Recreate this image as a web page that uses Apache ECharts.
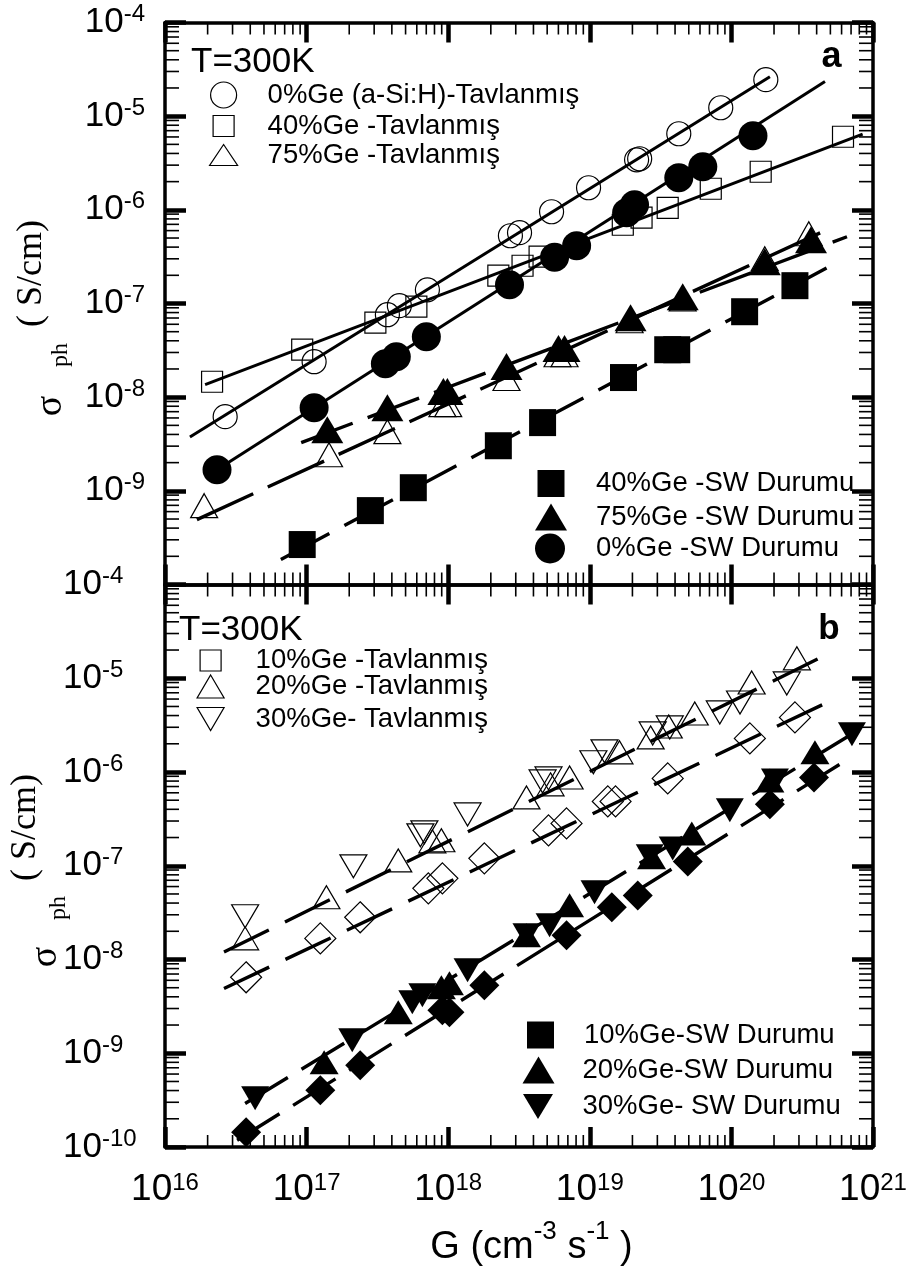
<!DOCTYPE html>
<html lang="tr">
<head>
<meta charset="utf-8">
<title>Fotoiletkenlik – G</title>
<script src="https://cdn.jsdelivr.net/npm/echarts@6/dist/echarts.min.js"></script>
<style>
  html, body { margin: 0; padding: 0; background: #fff; }
  #chart { width: 910px; height: 1271px; }
</style>
</head>
<body>
<div id="chart"></div>
<script>
// Photoconductivity sigma_ph (S/cm) versus generation rate G (cm^-3 s^-1), T = 300 K

// ---------- Panel (a) ----------
const gA_Ge0_ann  = [2.66e16, 1.13e17, 3.72e17, 4.52e17, 7.13e17, 2.75e18, 3.19e18, 5.37e18, 9.8e18, 2.14e19, 2.25e19, 4.25e19, 8.41e19, 1.75e20];
const sA_Ge0_ann  = [6.19e-9, 2.39e-8, 7.59e-8, 9.48e-8, 1.40e-7, 5.29e-7, 5.70e-7, 9.54e-7, 1.72e-6, 3.42e-6, 3.51e-6, 6.49e-6, 1.23e-5, 2.45e-5];

const gA_Ge40_ann = [2.15e16, 9.31e16, 3.06e17, 5.96e17, 2.26e18, 3.35e18, 4.42e18, 1.71e19, 2.32e19, 3.55e19, 7.15e19, 1.61e20, 6.14e20];
const sA_Ge40_ann = [1.46e-8, 3.21e-8, 6.24e-8, 9.24e-8, 1.98e-7, 2.53e-7, 3.16e-7, 6.93e-7, 8.24e-7, 1.05e-6, 1.68e-6, 2.55e-6, 6.03e-6];

const gA_Ge75_ann = [1.89e16, 1.44e17, 3.72e17, 9.10e17, 1.00e18, 2.58e18, 5.92e18, 6.63e18, 1.91e19, 4.53e19, 1.72e20, 3.52e20];
const sA_Ge75_ann = [6.95e-10, 2.43e-9, 4.28e-9, 8.32e-9, 8.32e-9, 1.58e-8, 2.84e-8, 2.84e-8, 6.55e-8, 1.12e-7, 3.01e-7, 5.56e-7];

const gA_Ge40_sw  = [9.31e16, 2.82e17, 5.67e17, 2.26e18, 4.64e18, 1.73e19, 3.55e19, 4.11e19, 1.24e20, 2.81e20];
const sA_Ge40_sw  = [2.67e-10, 6.15e-10, 1.08e-9, 3.03e-9, 5.35e-9, 1.62e-8, 3.21e-8, 3.21e-8, 8.17e-8, 1.55e-7];

const gA_Ge75_sw  = [1.40e17, 3.72e17, 9.25e17, 9.87e17, 2.58e18, 6.01e18, 6.63e18, 1.94e19, 4.53e19, 1.72e20, 3.65e20];
const sA_Ge75_sw  = [4.50e-9, 7.73e-9, 1.15e-8, 1.15e-8, 2.12e-8, 3.30e-8, 3.30e-8, 7.05e-8, 1.18e-7, 2.79e-7, 4.80e-7];

const gA_Ge0_sw   = [2.33e16, 1.13e17, 3.60e17, 4.30e17, 7.01e17, 2.71e18, 5.64e18, 8.07e18, 1.82e19, 2.07e19, 4.25e19, 6.28e19, 1.42e20];
const sA_Ge0_sw   = [1.68e-9, 7.73e-9, 2.28e-8, 2.70e-8, 4.42e-8, 1.59e-7, 3.12e-7, 4.14e-7, 9.31e-7, 1.13e-6, 2.20e-6, 2.88e-6, 6.18e-6];

// power-law fit lines of panel (a): end points
const fitA_Ge0_ann_g  = [1.50e16, 1.87e20], fitA_Ge0_ann_s  = [3.76e-9, 2.63e-5];
const fitA_Ge40_ann_g = [1.92e16, 8.45e20], fitA_Ge40_ann_s = [1.36e-8, 6.44e-6];
const fitA_Ge75_ann_g = [1.68e16, 4.73e20], fitA_Ge75_ann_s = [4.93e-10, 6.13e-7];
const fitA_Ge75_sw_g  = [9.16e16, 6.55e20], fitA_Ge75_sw_s  = [3.27e-9, 5.16e-7];
const fitA_Ge40_sw_g  = [6.58e16, 4.70e20], fitA_Ge40_sw_s  = [1.85e-10, 2.39e-7];
const fitA_Ge0_sw_g   = [2.33e16, 4.58e20], fitA_Ge0_sw_s   = [1.68e-9, 2.35e-5];

// ---------- Panel (b) ----------
const gB_Ge10_ann = [3.74e16, 1.25e17, 2.39e17, 7.24e17, 9.10e17, 1.80e18, 5.11e18, 6.85e18, 1.34e19, 1.52e19, 3.55e19, 1.35e20, 2.81e20];
const sB_Ge10_ann = [6.46e-9, 1.68e-8, 2.82e-8, 5.74e-8, 7.34e-8, 1.20e-7, 2.38e-7, 2.83e-7, 4.86e-7, 4.86e-7, 8.55e-7, 2.28e-6, 3.82e-6];

const gB_Ge20_ann = [3.68e16, 1.38e17, 4.44e17, 7.73e17, 8.95e17, 3.57e18, 5.28e18, 7.20e18, 1.62e19, 2.69e19, 3.61e19, 5.51e19, 1.39e20, 2.90e20];
const sB_Ge20_ann = [1.68e-8, 4.61e-8, 1.14e-7, 1.82e-7, 1.87e-7, 5.36e-7, 7.38e-7, 8.75e-7, 1.62e-6, 2.34e-6, 3.06e-6, 4.21e-6, 9.02e-6, 1.63e-5];

const gB_Ge30_ann = [3.68e16, 2.14e17, 6.36e17, 6.79e17, 1.37e18, 4.64e18, 5.11e18, 1.06e19, 1.27e19, 2.78e19, 3.67e19, 8.28e19, 1.15e20, 2.46e20];
const sB_Ge30_ann = [2.89e-8, 9.86e-8, 2.11e-7, 2.27e-7, 3.53e-7, 7.94e-7, 8.55e-7, 1.27e-6, 1.66e-6, 2.58e-6, 2.99e-6, 4.32e-6, 5.52e-6, 8.81e-6];

const gB_Ge10_sw  = [3.74e16, 1.25e17, 2.39e17, 9.10e17, 1.02e18, 1.80e18, 6.85e18, 1.43e19, 2.18e19, 4.92e19, 1.87e20, 3.83e20];
const sB_Ge10_sw  = [1.44e-10, 4.03e-10, 7.45e-10, 2.87e-9, 2.74e-9, 5.31e-9, 1.81e-8, 3.60e-8, 4.83e-8, 1.11e-7, 4.52e-7, 8.75e-7];

const gB_Ge20_sw  = [1.33e17, 4.44e17, 8.95e17, 1.02e18, 3.57e18, 7.20e18, 2.73e19, 5.25e19, 1.87e20, 3.89e20];
const sB_Ge20_sw  = [8.02e-10, 2.74e-9, 5.06e-9, 5.57e-9, 1.81e-8, 3.78e-8, 1.23e-7, 2.21e-7, 8.13e-7, 1.62e-6];

const gB_Ge30_sw  = [4.33e16, 2.10e17, 5.58e17, 6.57e17, 1.37e18, 3.57e18, 5.20e18, 1.08e19, 2.65e19, 3.85e19, 9.75e19, 2.03e20, 7.10e20];
const sB_Ge30_sw  = [3.31e-10, 1.38e-9, 3.50e-9, 4.15e-9, 7.67e-9, 1.81e-8, 2.32e-8, 5.20e-8, 1.26e-7, 1.53e-7, 3.90e-7, 8.13e-7, 2.52e-6];

// fit lines of panel (b)
const fitB_ann_tri_g = [2.61e16, 5.10e20], fitB_ann_tri_s = [1.20e-8, 1.90e-5];
const fitB_ann_dia_g = [2.61e16, 5.10e20], fitB_ann_dia_s = [4.90e-9, 5.80e-6];
const fitB_sw_tri_g  = [3.68e16, 8.54e20], fitB_sw_tri_s  = [2.91e-10, 3.01e-6];
const fitB_sw_dia_g  = [3.23e16, 6.34e20], fitB_sw_dia_s  = [1.18e-10, 1.31e-6];

// axis ranges
const gRange = [1e16, 1e21];
const sigmaRange = [1e-10, 1e-4];
const xDecades = [16, 17, 18, 19, 20];
const yDecades = [-10, -9, -8, -7, -6, -5];
const minorSteps = [2, 3, 4, 5, 6, 7, 8, 9];

const FONT = '"Liberation Sans", Arial, Helvetica, sans-serif';
const SERIF = '"Liberation Serif", "Times New Roman", serif';
const DOWN_TRIANGLE = 'path://M0,0L20,0L10,17Z';

const grids = [
  { left: 165, top: 22.5, width: 708, height: 562 },
  { left: 165, top: 584.5, width: 708, height: 562.5 }
];

// minor tick values (2..9 of each decade)
const yMinorValues = [];
yDecades.forEach(function (d) { minorSteps.forEach(function (k) { yMinorValues.push(k * Math.pow(10, d)); }); });
const xMinorValues = [];
xDecades.forEach(function (d) { minorSteps.forEach(function (k) { xMinorValues.push(k * Math.pow(10, d)); }); });

function exponent(v) { return Math.round(Math.log10(v)); }

function xAxis(gridIndex, position, withLabels) {
  return {
    type: 'log', logBase: 10, min: gRange[0], max: gRange[1],
    gridIndex: gridIndex, position: position,
    axisLine: { show: true, onZero: false, lineStyle: { color: '#000', width: 3.5 } },
    axisTick: { show: true, inside: true, length: 20, lineStyle: { color: '#000', width: 4.5 } },
    splitLine: { show: false },
    axisLabel: withLabels ? {
      show: true, margin: 22, showMinLabel: true, showMaxLabel: true,
      formatter: function (v) { return '{b|10}{s|' + exponent(v) + '}'; },
      rich: {
        b: { fontFamily: FONT, fontSize: 37, lineHeight: 42, color: '#000' },
        s: { fontFamily: FONT, fontSize: 24, lineHeight: 29, height: 29, verticalAlign: 'top', color: '#000' }
      }
    } : { show: false }
  };
}

function yAxis(gridIndex, position, labelMode) {
  const ax = {
    type: 'log', logBase: 10, min: sigmaRange[0], max: sigmaRange[1],
    gridIndex: gridIndex, position: position,
    axisLine: { show: true, onZero: false, lineStyle: { color: '#000', width: 3.5 } },
    axisTick: { show: true, inside: true, length: 21, lineStyle: { color: '#000', width: 4.5 } },
    splitLine: { show: false },
    axisLabel: { show: false }
  };
  if (labelMode) {
    ax.axisLabel = {
      show: true, showMinLabel: true, showMaxLabel: true,
      align: labelMode.align, margin: labelMode.margin,
      formatter: function (v) {
        const e = exponent(v);
        if (labelMode.skip && labelMode.skip.indexOf(e) >= 0) return '';
        return '{b|10}{s|' + e + '}';
      },
      rich: {
        b: { fontFamily: FONT, fontSize: 35, lineHeight: 40, color: '#000' },
        s: { fontFamily: FONT, fontSize: 24, lineHeight: 24, height: 24, verticalAlign: 'top', color: '#000' }
      }
    };
  }
  return ax;
}

function pairs(g, s) { return g.map(function (x, i) { return [x, s[i]]; }); }

function scatter(name, gridIndex, g, s, symbol, size, hollow, rotate) {
  return {
    type: 'scatter', name: name, silent: true,
    xAxisIndex: gridIndex * 2, yAxisIndex: gridIndex * 2,
    data: pairs(g, s),
    symbol: symbol, symbolSize: size, symbolRotate: rotate || 0,
    itemStyle: hollow
      ? { color: 'rgba(0,0,0,0)', borderColor: '#000', borderWidth: 1.2, opacity: 1 }
      : { color: '#000', borderWidth: 0, opacity: 1 },
    z: hollow ? 2 : 3
  };
}

function fitLine(gridIndex, g, s, dash) {
  return {
    type: 'line', silent: true,
    xAxisIndex: gridIndex * 2, yAxisIndex: gridIndex * 2,
    data: pairs(g, s), symbol: 'none',
    lineStyle: { color: '#000', width: dash ? 3.4 : 3, type: dash || 'solid', opacity: 1 },
    z: 4
  };
}

// one legend block per entry: [name, icon centre x, row centre y, icon w, icon h, text x, hollow, icon]
const legendRows = [
  ['0%Ge (a-Si:H)-Tavlanmış', 223, 95, 26, 26, 267, true, 'circle'],
  ['40%Ge -Tavlanmış', 223, 126, 21, 21, 267, true, 'rect'],
  ['75%Ge -Tavlanmış', 223, 155, 28, 21, 267, true, 'triangle'],
  ['40%Ge -SW Durumu', 551, 483.5, 27, 27, 596, false, 'rect'],
  ['75%Ge -SW Durumu', 551, 517, 32, 27, 596, false, 'triangle'],
  ['0%Ge -SW Durumu', 550, 548.5, 30, 30, 596, false, 'circle'],
  ['10%Ge -Tavlanmış', 210, 660.5, 21, 21, 255, true, 'rect'],
  ['20%Ge -Tavlanmış', 210, 686.5, 27, 23, 255, true, 'triangle'],
  ['30%Ge- Tavlanmış', 210, 719, 27, 23, 255, true, DOWN_TRIANGLE],
  ['10%Ge-SW Durumu', 540.5, 1035, 27, 27, 584, false, 'rect'],
  ['20%Ge-SW Durumu', 538.5, 1070, 32, 27, 582.5, false, 'triangle'],
  ['30%Ge- SW Durumu', 538, 1106.5, 30, 25, 582.5, false, DOWN_TRIANGLE]
];
const LEGEND_LH = 32;
const legends = legendRows.map(function (r) {
  const w = r[3], h = r[4];
  return {
    show: true, orient: 'vertical', selectedMode: false, padding: 0,
    left: r[1] - w / 2, top: r[2] - LEGEND_LH / 2,
    itemWidth: w, itemHeight: h, itemGap: 0,
    symbolKeepAspect: false, symbolRotate: 0,
    itemStyle: r[6]
      ? { color: 'rgba(0,0,0,0)', borderColor: '#000', borderWidth: 1.2, opacity: 1 }
      : { color: '#000', borderWidth: 0, opacity: 1 },
    data: [{ name: r[0], icon: r[7] }],
    textStyle: {
      fontFamily: FONT, fontSize: 27.5, color: '#000', lineHeight: LEGEND_LH,
      padding: [0, 0, 0, r[5] - (r[1] + w / 2) - 5]
    }
  };
});

function yTitle(sigmaX, sigmaY, phX, phY, unitX, unitY) {
  return [
    { type: 'text', x: sigmaX, y: sigmaY, rotation: Math.PI / 2,
      style: { text: 'σ', fontFamily: SERIF, fontSize: 38, fill: '#000', align: 'center', verticalAlign: 'middle' } },
    { type: 'text', x: phX, y: phY, rotation: Math.PI / 2,
      style: { text: 'ph', fontFamily: SERIF, fontSize: 24, fill: '#000', align: 'center', verticalAlign: 'middle' } },
    { type: 'text', x: unitX, y: unitY, rotation: Math.PI / 2,
      style: { text: '( S/cm)', fontFamily: SERIF, fontSize: 36, fill: '#000', align: 'center', verticalAlign: 'middle' } }
  ];
}

const graphics = [
  { type: 'text', x: 191, y: 62.5,
    style: { text: 'T=300K', fontFamily: FONT, fontSize: 35, fill: '#000', align: 'left', verticalAlign: 'middle' } },
  { type: 'text', x: 179, y: 630.3,
    style: { text: 'T=300K', fontFamily: FONT, fontSize: 35, fill: '#000', align: 'left', verticalAlign: 'middle' } },
  { type: 'text', x: 831.5, y: 57,
    style: { text: 'a', fontFamily: FONT, fontSize: 36, fontWeight: 'bold', fill: '#000', align: 'center', verticalAlign: 'middle' } },
  { type: 'text', x: 829, y: 629.5,
    style: { text: 'b', fontFamily: FONT, fontSize: 35, fontWeight: 'bold', fill: '#000', align: 'center', verticalAlign: 'middle' } },
  { type: 'text', x: 531.5, y: 1248,
    style: {
      text: '{b|G (cm}{s|-3}{b| s}{s|-1}{b| )}',
      align: 'center', verticalAlign: 'middle',
      rich: {
        b: { fontFamily: FONT, fontSize: 38, lineHeight: 48, fill: '#000' },
        s: { fontFamily: FONT, fontSize: 26, lineHeight: 15, height: 15, verticalAlign: 'top', fill: '#000' }
      }
    } }
].concat(yTitle(51, 406, 61, 355, 32, 273.5), yTitle(46, 957, 59, 908, 26, 827.5));

const option = {
  animation: false,
  backgroundColor: '#fff',
  textStyle: { fontFamily: FONT },
  grid: grids,
  xAxis: [
    xAxis(0, 'bottom', false), xAxis(0, 'top', false),
    xAxis(1, 'bottom', true),  xAxis(1, 'top', false)
  ],
  yAxis: [
    yAxis(0, 'left', { align: 'right', margin: 20, skip: [-10] }), yAxis(0, 'right', null),
    yAxis(1, 'left', { align: 'left', margin: 102 }),              yAxis(1, 'right', null)
  ],
  legend: legends,
  graphic: graphics,
  series: [
    // panel (a)
    scatter('0%Ge (a-Si:H)-Tavlanmış', 0, gA_Ge0_ann, sA_Ge0_ann, 'circle', 24, true),
    scatter('40%Ge -Tavlanmış', 0, gA_Ge40_ann, sA_Ge40_ann, 'rect', 21, true),
    scatter('75%Ge -Tavlanmış', 0, gA_Ge75_ann, sA_Ge75_ann, 'triangle', [27, 24], true),
    scatter('40%Ge -SW Durumu', 0, gA_Ge40_sw, sA_Ge40_sw, 'rect', 27, false),
    scatter('75%Ge -SW Durumu', 0, gA_Ge75_sw, sA_Ge75_sw, 'triangle', [32, 27], false),
    scatter('0%Ge -SW Durumu', 0, gA_Ge0_sw, sA_Ge0_sw, 'circle', 29, false),
    fitLine(0, fitA_Ge0_ann_g, fitA_Ge0_ann_s, null),
    fitLine(0, fitA_Ge40_ann_g, fitA_Ge40_ann_s, null),
    fitLine(0, fitA_Ge0_sw_g, fitA_Ge0_sw_s, null),
    fitLine(0, fitA_Ge75_ann_g, fitA_Ge75_ann_s, [62, 16]),
    fitLine(0, fitA_Ge75_sw_g, fitA_Ge75_sw_s, [55, 16]),
    fitLine(0, fitA_Ge40_sw_g, fitA_Ge40_sw_s, [55, 17]),
    // panel (b)
    scatter('10%Ge -Tavlanmış', 1, gB_Ge10_ann, sB_Ge10_ann, 'diamond', 31, true),
    scatter('20%Ge -Tavlanmış', 1, gB_Ge20_ann, sB_Ge20_ann, 'triangle', [27, 23], true),
    scatter('30%Ge- Tavlanmış', 1, gB_Ge30_ann, sB_Ge30_ann, DOWN_TRIANGLE, [27, 23], true),
    scatter('10%Ge-SW Durumu', 1, gB_Ge10_sw, sB_Ge10_sw, 'diamond', 30, false),
    scatter('20%Ge-SW Durumu', 1, gB_Ge20_sw, sB_Ge20_sw, 'triangle', [29, 24], false),
    scatter('30%Ge- SW Durumu', 1, gB_Ge30_sw, sB_Ge30_sw, DOWN_TRIANGLE, [28, 24], false),
    fitLine(1, fitB_ann_tri_g, fitB_ann_tri_s, [50, 18]),
    fitLine(1, fitB_ann_dia_g, fitB_ann_dia_s, [50, 18]),
    fitLine(1, fitB_sw_tri_g, fitB_sw_tri_s, [50, 16]),
    fitLine(1, fitB_sw_dia_g, fitB_sw_dia_s, [50, 16])
  ]
};

const chart = echarts.init(document.getElementById('chart'), null, { renderer: 'canvas' });
chart.setOption(option);

// minor ticks (2..9 of each decade) on all four sides of each panel,
// drawn as thin filled bars placed through the axes' scales
function minorTickBars(gridIndex) {
  const out = [];
  const finder = { xAxisIndex: gridIndex * 2, yAxisIndex: gridIndex * 2 };
  const lo = chart.convertToPixel(finder, [gRange[0], sigmaRange[0]]);
  const hi = chart.convertToPixel(finder, [gRange[1], sigmaRange[1]]);
  const bar = function (x, y, w, h) {
    out.push({ type: 'rect', silent: true, z: 10, shape: { x: x, y: y, width: w, height: h }, style: { fill: '#000' } });
  };
  yMinorValues.forEach(function (v) {
    const y = chart.convertToPixel(finder, [gRange[0], v])[1];
    bar(lo[0], y - 0.8, 14, 1.6);
    bar(hi[0] - 14, y - 0.8, 14, 1.6);
  });
  xMinorValues.forEach(function (v) {
    const x = chart.convertToPixel(finder, [v, sigmaRange[0]])[0];
    bar(x - 0.8, lo[1] - 12, 1.6, 12);
    bar(x - 0.8, hi[1], 1.6, 12);
  });
  return out;
}
let tickBars = [];
try {
  tickBars = minorTickBars(0).concat(minorTickBars(1));
} catch (e) {
  tickBars = [];
}
chart.setOption({ graphic: graphics.concat(tickBars) });
chart.getZr().refreshImmediately();
</script>
</body>
</html>
